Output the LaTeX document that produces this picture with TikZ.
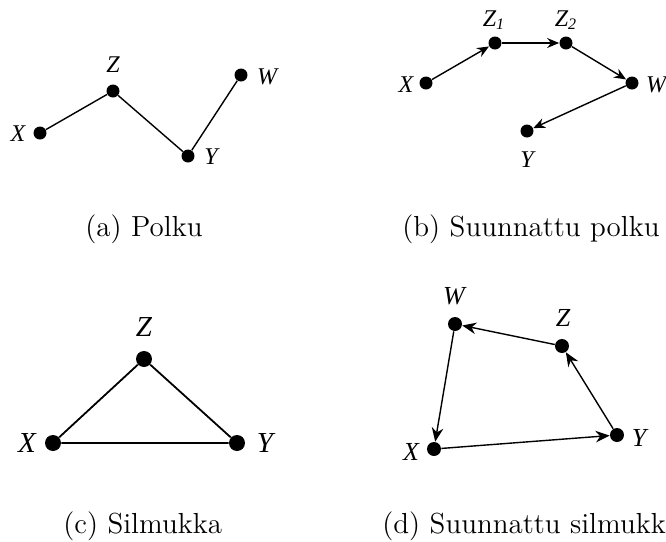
\documentclass[tikz,border=0pt]{standalone}
\usepackage{fontspec}
\newfontfamily\lab{Liberation Serif}
\usetikzlibrary{arrows.meta}
\begin{document}
\begin{tikzpicture}[x=0.5pt,y=-0.5pt,
  dot/.style={circle,fill=black,inner sep=0pt,minimum size=#1},
  dot/.default=6.5pt,
  lbl/.style={inner sep=0pt,font=\lab\itshape\fontsize{#1}{#1}\selectfont},
  lbl/.default=12,
  edge/.style={line width=0.7pt},
  arr/.style={line width=0.7pt,-{Stealth[length=6pt,width=5pt,inset=2pt]}},
  arrd/.style={line width=0.7pt,-{Stealth[length=7pt,width=5.8pt,inset=2.3pt]}},
  captxt/.style={inner sep=0pt,anchor=base west,font=\fontsize{14.5}{17}\selectfont}]
\clip (0,0) rectangle (666,542);
% (a)
\node[dot] (aX) at (40,133) {};
\node[dot] (aZ) at (113,91) {};
\node[dot] (aY) at (188,156) {};
\node[dot] (aW) at (241,75) {};
\node[lbl] (aXl) at (18,134) {X};
\node[lbl] (aZl) at (113,65) {Z};
\node[lbl] (aYl) at (211,157) {Y};
\node[lbl] (aWl) at (267,77) {W};
\draw[edge] (aX) -- (aZ) -- (aY) -- (aW);
\node[captxt] (capa) at (85,236) {(a) Polku};
% (b)
\node[dot] (bX) at (426,83) {};
\node[dot] (bZ1) at (495,43) {};
\node[dot] (bZ2) at (566,43) {};
\node[dot] (bW) at (632,83) {};
\node[dot] (bY) at (527,131) {};
\node[lbl] (bXl) at (406,85) {X};
\node[lbl] (bZ1l) at (494,20) {Z\textsubscript{1}};
\node[lbl] (bZ2l) at (566,20) {Z\textsubscript{2}};
\node[lbl] (bWl) at (656,85) {W};
\node[lbl] (bYl) at (527,160) {Y};
\draw[arr] (bX) -- (bZ1);
\draw[arr] (bZ1) -- (bZ2);
\draw[arr] (bZ2) -- (bW);
\draw[arr] (bW) -- (bY);
\node[captxt] (capb) at (402,236) {(b) Suunnattu polku};
% (c)
\node[dot=8pt] (cX) at (53,443) {};
\node[dot=8pt] (cZ) at (144,359) {};
\node[dot=8pt] (cY) at (237,443) {};
\node[lbl=14.5] (cXl) at (27,443) {X};
\node[lbl=14.5] (cZl) at (144,327) {Z};
\node[lbl=14.5] (cYl) at (265,443) {Y};
\draw[line width=0.9pt] (cX) -- (cZ) -- (cY) -- (cX);
\node[captxt] (capc) at (63,533) {(c) Silmukka};
% (d)
\node[dot=7pt] (dW) at (455,324) {};
\node[dot=7pt] (dZ) at (562,346) {};
\node[dot=7pt] (dY) at (617,435) {};
\node[dot=7pt] (dX) at (434,449) {};
\node[lbl=13] (dWl) at (454,296) {W};
\node[lbl=13] (dZl) at (563,318) {Z};
\node[lbl=13] (dYl) at (639,438) {Y};
\node[lbl=13] (dXl) at (411,452) {X};
\draw[arrd] (dY) -- (dZ);
\draw[arrd] (dZ) -- (dW);
\draw[arrd] (dW) -- (dX);
\draw[arrd] (dX) -- (dY);
\node[captxt] (capd) at (382,533) {(d) Suunnattu silmukka};
\end{tikzpicture}
\end{document}
